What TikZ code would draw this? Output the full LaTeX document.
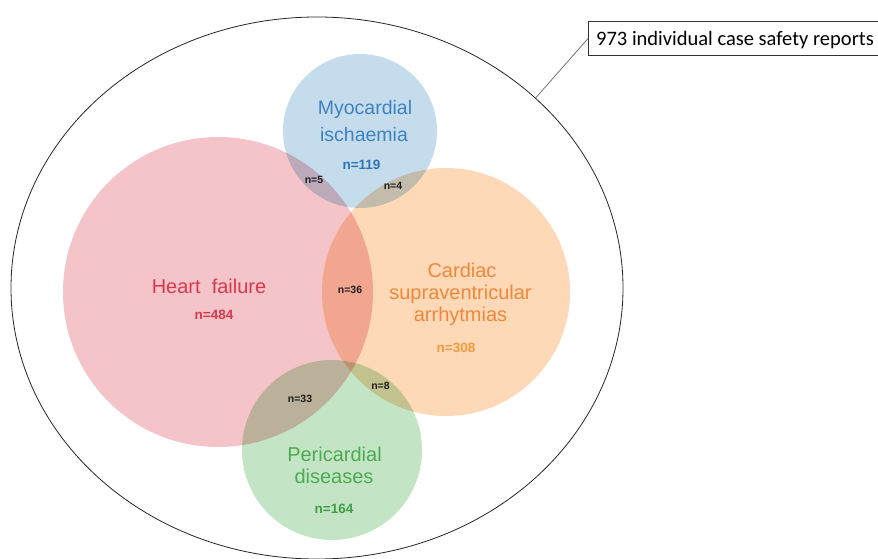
\documentclass[tikz,border=0pt]{standalone}
\usepackage{fontspec}
\setmainfont{Liberation Sans}
\newfontfamily\boxfont{Carlito}
\usetikzlibrary{shapes.geometric}
\definecolor{hffill}{RGB}{244,196,200}
\definecolor{myofill}{RGB}{197,220,237}
\definecolor{cafill}{RGB}{253,217,184}
\definecolor{pefill}{RGB}{196,229,197}
\definecolor{hftext}{RGB}{214,58,78}
\definecolor{myotext}{RGB}{62,130,192}
\definecolor{myonum}{RGB}{46,117,182}
\definecolor{catext}{RGB}{240,136,58}
\definecolor{canum}{RGB}{243,154,63}
\definecolor{petext}{RGB}{77,170,80}
\definecolor{penum}{RGB}{63,158,68}
\definecolor{smalltext}{RGB}{30,30,30}
\tikzset{
  vcirc/.style={circle, inner sep=0pt, outer sep=0pt, draw=none},
  bigtext/.style={anchor=base, inner sep=0pt, font=\fontsize{20}{22}\selectfont},
  numtext/.style={anchor=base, inner sep=0pt, font=\fontsize{13.5}{15}\selectfont\bfseries},
  smalllbl/.style={anchor=base, inner sep=0pt, text=smalltext, font=\fontsize{10.5}{12}\selectfont\bfseries},
}
\begin{document}
\begin{tikzpicture}[x=1pt,y=-1pt]
\useasboundingbox (0,0) rectangle (878,559);
\fill[white] (0,0) rectangle (878,559);
% outer ellipse
\node[ellipse, draw=black!85, line width=0.8pt, minimum width=612pt, minimum height=542pt, inner sep=0pt] (ell) at (317,288) {};
% circles
\begin{scope}[blend group=multiply]
\node[vcirc, fill=hffill, minimum size=310pt] (hf) at (218,292) {};
\node[vcirc, fill=myofill, minimum size=154pt] (myo) at (360,131) {};
\node[vcirc, fill=cafill, minimum size=248pt] (ca) at (446,292) {};
\node[vcirc, fill=pefill, minimum size=180pt] (pe) at (332,450) {};
\end{scope}
% labels
\node[bigtext, text=myotext, font=\fontsize{19.5}{22}\selectfont] (myo1) at (365,115) {Myocardial};
\node[bigtext, text=myotext, font=\fontsize{19.5}{22}\selectfont] (myo2) at (364,142) {ischaemia};
\node[numtext, text=myonum] (myon) at (361.5,169) {n=119};
\node[bigtext, text=hftext] (hf1) at (209,293) {Heart\hspace{0.556em}failure};
\node[numtext, text=hftext] (hfn) at (214,319) {n=484};
\node[bigtext, text=catext] (ca1) at (462,277) {Cardiac};
\node[bigtext, text=catext] (ca2) at (460.5,299) {supraventricular};
\node[bigtext, text=catext] (ca3) at (460.5,321) {arrhytmias};
\node[numtext, text=canum] (can) at (456,352) {n=308};
\node[bigtext, text=petext] (pe1) at (334.5,461) {Pericardial};
\node[bigtext, text=petext] (pe2) at (334,483) {diseases};
\node[numtext, text=penum] (pen) at (334,513) {n=164};
% intersection counts
\node[smalllbl] (i5) at (314,183) {n=5};
\node[smalllbl] (i4) at (393,189) {n=4};
\node[smalllbl] (i36) at (350,293) {n=36};
\node[smalllbl] (i33) at (300,402) {n=33};
\node[smalllbl] (i8) at (380.5,389) {n=8};
% callout box
\node[anchor=base west, inner xsep=8pt, inner ysep=8pt, text height=16pt, text depth=1pt, font=\boxfont\fontsize{20.5}{24}\selectfont] (box) at (588,46) {973 individual case safety reports};
\draw[black!80, line width=0.8pt] (box.north west) rectangle ([xshift=30pt]box.south east);
\draw[black!55, line width=0.8pt] (box.west) -- (ell.41);
\end{tikzpicture}
\end{document}
